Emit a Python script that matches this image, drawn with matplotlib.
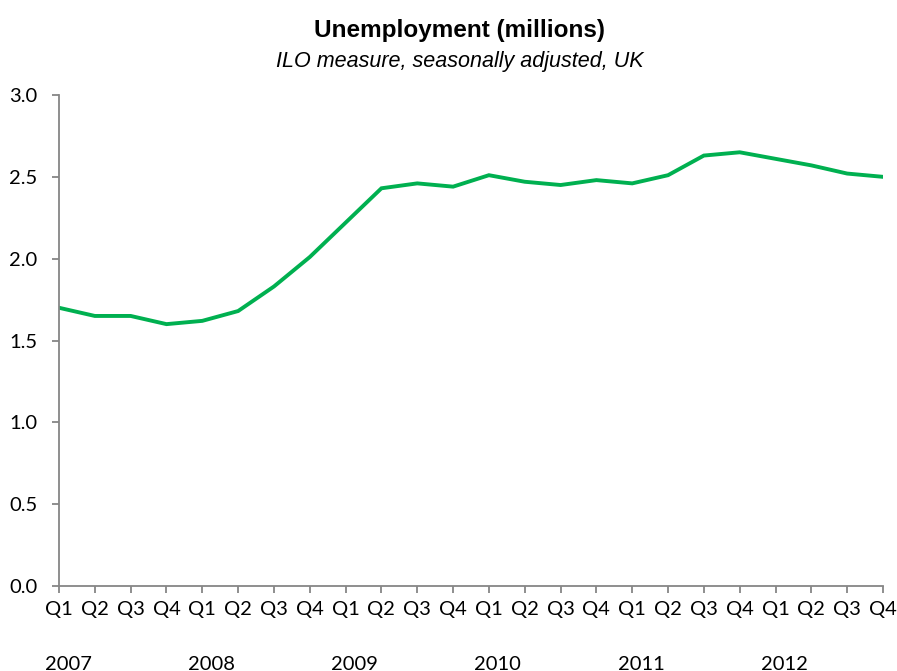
import matplotlib
matplotlib.use("Agg")
import matplotlib.pyplot as plt
import matplotlib.transforms as mtransforms

quarters = ["Q1", "Q2", "Q3", "Q4"] * 6
years = ["2007", "2008", "2009", "2010", "2011", "2012"]
unemployment = [1.70, 1.65, 1.65, 1.60, 1.62, 1.68, 1.83, 2.01,
                2.22, 2.43, 2.46, 2.44, 2.51, 2.47, 2.45, 2.48,
                2.46, 2.51, 2.63, 2.65, 2.61, 2.57, 2.52, 2.50]

axis_grey = "#868686"

fig = plt.figure(figsize=(8.97, 6.71), dpi=100)
ax = fig.add_axes([59 / 897, 1 - 586 / 671, (883 - 59) / 897, (586 - 95) / 671])

x = list(range(len(unemployment)))
ax.plot(x, unemployment, color="#00B050", linewidth=2.8, solid_joinstyle="miter")

ax.set_xlim(0, len(unemployment) - 1)
ax.set_ylim(0, 3.0)
ax.set_yticks([0, 0.5, 1.0, 1.5, 2.0, 2.5, 3.0])
ax.set_yticklabels(["0.0", "0.5", "1.0", "1.5", "2.0", "2.5", "3.0"])
ax.set_xticks(x)
ax.set_xticklabels(quarters)

for side in ["top", "right"]:
    ax.spines[side].set_visible(False)
for side in ["left", "bottom"]:
    ax.spines[side].set_color(axis_grey)
    ax.spines[side].set_linewidth(1.3)

ax.tick_params(axis="y", direction="out", length=5, width=1.3, color=axis_grey,
               labelsize=14.5, pad=10.5)
ax.tick_params(axis="x", direction="out", length=5, width=1.3, color=axis_grey,
               labelsize=14.5, pad=6)
for lbl in ax.get_xticklabels() + ax.get_yticklabels():
    lbl.set_fontfamily("Lato")

# year labels under each group of quarters
trans = mtransforms.blended_transform_factory(ax.transData, fig.transFigure)
for i, yr in enumerate(years):
    ax.text(i * 4 + 0.25, 1 - 664 / 671, yr, transform=trans, ha="center", va="center",
            fontsize=14.5, fontfamily="Lato")

fig.text(459 / 897, 1 - 31 / 671, "Unemployment (millions)", ha="center", va="center",
         fontsize=17.5, fontweight="bold", fontfamily="Liberation Sans")
fig.text(460 / 897, 1 - 61 / 671, "ILO measure, seasonally adjusted, UK", ha="center",
         va="center", fontsize=15.5, fontstyle="italic", fontfamily="Liberation Sans")

fig.savefig("out.png", dpi=100)
